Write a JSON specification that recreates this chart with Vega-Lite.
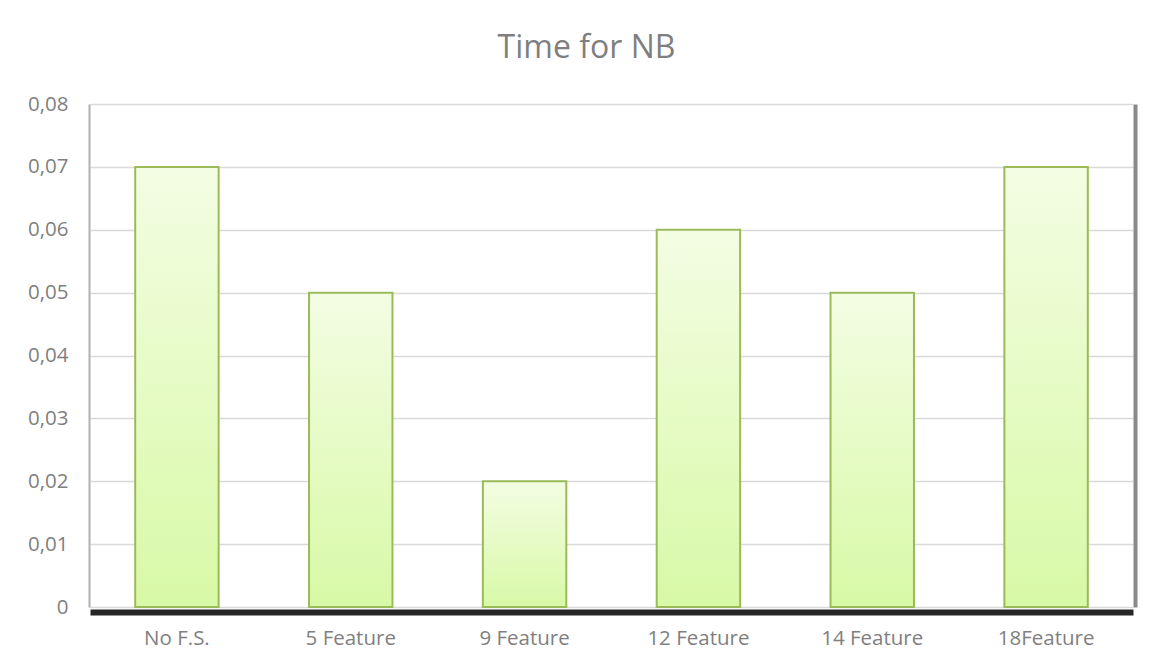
{
  "$schema": "https://vega.github.io/schema/vega-lite/v6.json",
  "width": 1043,
  "height": 503,
  "autosize": {"type": "none"},
  "padding": {"left": 90, "top": 104, "right": 27, "bottom": 58},
  "background": "#ffffff",
  "title": {
    "text": "Time for NB",
    "font": "Open Sans",
    "fontSize": 32,
    "fontWeight": "normal",
    "color": "#7f7f7f",
    "anchor": "middle",
    "frame": "group",
    "offset": 29,
    "dx": -25
  },
  "data": {
    "values": [
      {"method": "No F.S.", "time": 0.07},
      {"method": "5 Feature", "time": 0.05},
      {"method": "9 Feature", "time": 0.02},
      {"method": "12 Feature", "time": 0.06},
      {"method": "14 Feature", "time": 0.05},
      {"method": "18Feature", "time": 0.07}
    ]
  },
  "resolve": {"axis": {"y": "independent"}},
  "layer": [
    {
      "mark": {
        "type": "bar",
        "fill": {
          "gradient": "linear",
          "x1": 0, "y1": 0, "x2": 0, "y2": 1,
          "stops": [
            {"offset": 0, "color": "#f3fde3"},
            {"offset": 1, "color": "#d8f9a6"}
          ]
        },
        "stroke": "#9bbb59",
        "strokeWidth": 2
      },
      "encoding": {
        "x": {
          "field": "method",
          "type": "nominal",
          "sort": null,
          "scale": {"paddingInner": 0.52, "paddingOuter": 0.26},
          "axis": {
            "title": null,
            "labelAngle": 0,
            "labelFont": "Open Sans",
            "labelFontSize": 20.5,
            "labelColor": "#7f7f7f",
            "ticks": false,
            "domainColor": "#262626",
            "domainWidth": 6,
            "offset": 5,
            "labelPadding": 16
          }
        },
        "y": {
          "field": "time",
          "type": "quantitative",
          "scale": {"domain": [0, 0.08]},
          "axis": {
            "title": null,
            "values": [0, 0.01, 0.02, 0.03, 0.04, 0.05, 0.06, 0.07, 0.08],
            "labelExpr": "datum.value == 0 ? '0' : replace(format(datum.value, '.2f'), '.', ',')",
            "labelFont": "Open Sans",
            "labelFontSize": 20.5,
            "labelColor": "#7f7f7f",
            "ticks": false,
            "grid": true,
            "gridColor": "#d9d9d9",
            "gridWidth": 1.5,
            "domainColor": "#b0b0b0",
            "domainWidth": 2,
            "offset": 1,
            "labelPadding": 21
          }
        }
      }
    },
    {
      "mark": {"type": "bar", "fillOpacity": 0, "strokeOpacity": 0},
      "encoding": {
        "x": {"field": "method", "type": "nominal", "sort": null},
        "y": {
          "field": "time",
          "type": "quantitative",
          "axis": {
            "orient": "right",
            "title": null,
            "labels": false,
            "ticks": false,
            "grid": false,
            "domainColor": "#8a8a8a",
            "domainWidth": 4,
            "offset": 2
          }
        }
      }
    }
  ],
  "config": {
    "view": {"stroke": null}
  }
}
